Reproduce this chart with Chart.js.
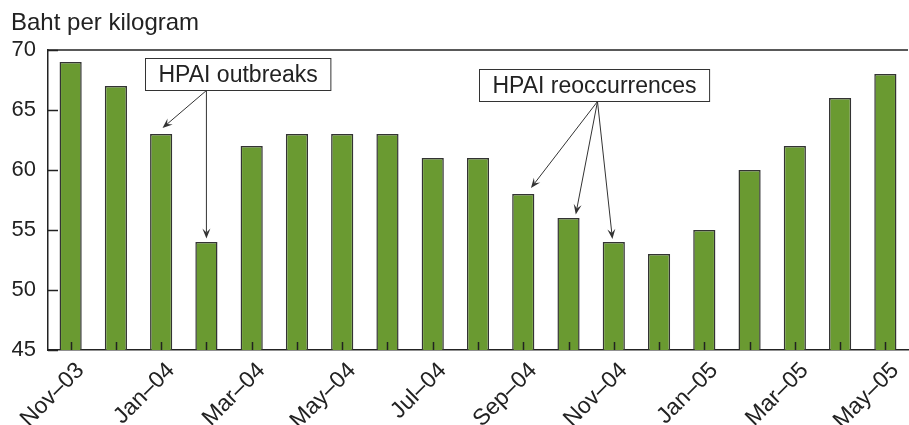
<!DOCTYPE html>
<html>
<head>
<meta charset="utf-8">
<script src="https://cdn.jsdelivr.net/npm/chart.js@4"></script>
<style>
  html, body { margin: 0; padding: 0; background: #fff; }
  #wrap { width: 909px; height: 425px; }
</style>
</head>
<body>
<div id="wrap"><canvas id="myChart" width="909" height="425"></canvas></div>
<script>
// monthly prices, Nov-03 .. May-05
let months = ["Nov–03", "Dec–03", "Jan–04", "Feb–04", "Mar–04", "Apr–04", "May–04", "Jun–04",
  "Jul–04", "Aug–04", "Sep–04", "Oct–04", "Nov–04", "Dec–04", "Jan–05", "Feb–05",
  "Mar–05", "Apr–05", "May–05"];
let prices = [69, 67, 63, 54, 62, 63, 63, 63, 61, 61, 58, 56, 54, 53, 55, 60, 62, 66, 68];
let yTicks = [45, 50, 55, 60, 65, 70];

// callouts: box centre in (category index, value), arrow tips in same units
let callouts = [
  { text: "HPAI outbreaks", x: 3.68, y: 68.0, from: 3.0,
    tips: [[2.03, 63.5], [3.0, 54.3]] },
  { text: "HPAI reoccurrences", x: 11.56, y: 67.05, from: 11.64,
    tips: [[10.17, 58.5], [11.16, 56.3], [11.97, 54.25]] },
];

const FONT = "'Liberation Sans', Arial, Helvetica, sans-serif";
const INK = "#222";

let extras = {
  id: "extras",
  beforeDatasetsDraw(chart) {
    let ctx = chart.ctx;
    let a = chart.chartArea;
    let ys = chart.scales.y;
    ctx.save();
    ctx.strokeStyle = INK;
    ctx.lineWidth = 1.5;
    // inward y ticks
    yTicks.forEach((v) => {
      let py = Math.round(ys.getPixelForValue(v)) + 0.5;
      ctx.beginPath();
      ctx.moveTo(a.left, py);
      ctx.lineTo(a.left + 10, py);
      ctx.stroke();
    });
    ctx.restore();
  },
  afterDraw(chart) {
    let ctx = chart.ctx;
    let a = chart.chartArea;
    let xs = chart.scales.x;
    let ys = chart.scales.y;
    ctx.save();
    // top frame line
    ctx.strokeStyle = INK;
    ctx.lineWidth = 1.5;
    ctx.beginPath();
    ctx.moveTo(a.left, a.top);
    ctx.lineTo(a.right, a.top);
    ctx.stroke();
    // inward x ticks at every category
    months.forEach((m, i) => {
      let px = Math.round(xs.getPixelForValue(i)) + 0.5;
      ctx.beginPath();
      ctx.moveTo(px, a.bottom);
      ctx.lineTo(px, a.bottom - 8);
      ctx.stroke();
    });
    // x labels, every other month, rotated 45 degrees
    ctx.fillStyle = INK;
    ctx.font = "23px " + FONT;
    ctx.textAlign = "right";
    ctx.textBaseline = "middle";
    months.forEach((m, i) => {
      if (i % 2 !== 0) return;
      let px = xs.getPixelForValue(i);
      ctx.save();
      ctx.translate(px + 10, a.bottom + 17);
      ctx.rotate(-Math.PI / 4);
      ctx.fillText(m, 0, 0);
      ctx.restore();
    });
    // axis title
    ctx.font = "24px " + FONT;
    ctx.textAlign = "left";
    ctx.textBaseline = "alphabetic";
    ctx.fillText("Baht per kilogram", 11, 30);

    // callouts
    let px = (i) => xs.left + (i + 0.5) * (xs.width / months.length);
    callouts.forEach((c) => {
      ctx.font = "23px " + FONT;
      let w = ctx.measureText(c.text).width + 26;
      let h = 32;
      let cx = px(c.x), cy = ys.getPixelForValue(c.y);
      let bx = Math.round(cx - w / 2) + 0.5, by = Math.round(cy - h / 2) + 0.5;
      let ox = px(c.from), oy = by + h;
      // arrows
      ctx.strokeStyle = "#333";
      ctx.fillStyle = "#333";
      ctx.lineWidth = 1;
      c.tips.forEach((t) => {
        let tx = px(t[0]), ty = ys.getPixelForValue(t[1]);
        let ang = Math.atan2(ty - oy, tx - ox);
        let L = 10, W = 4;
        ctx.beginPath();
        ctx.moveTo(ox, oy);
        ctx.lineTo(tx - Math.cos(ang) * L * 0.6, ty - Math.sin(ang) * L * 0.6);
        ctx.stroke();
        ctx.beginPath();
        ctx.moveTo(tx, ty);
        ctx.lineTo(tx - Math.cos(ang) * L - Math.sin(ang) * W, ty - Math.sin(ang) * L + Math.cos(ang) * W);
        ctx.lineTo(tx - Math.cos(ang) * L * 0.6, ty - Math.sin(ang) * L * 0.6);
        ctx.lineTo(tx - Math.cos(ang) * L + Math.sin(ang) * W, ty - Math.sin(ang) * L - Math.cos(ang) * W);
        ctx.closePath();
        ctx.fill();
      });
      // box
      ctx.fillStyle = "#fff";
      ctx.fillRect(bx, by, w, h);
      ctx.strokeStyle = "#333";
      ctx.lineWidth = 1;
      ctx.strokeRect(bx, by, w, h);
      ctx.fillStyle = INK;
      ctx.textAlign = "center";
      ctx.textBaseline = "middle";
      ctx.fillText(c.text, bx + w / 2, by + h / 2 + 1);
    });
    ctx.restore();
  },
};

let ctx = document.getElementById("myChart").getContext("2d");
let myChart = new Chart(ctx, {
  type: "bar",
  data: {
    labels: months,
    datasets: [
      {
        data: prices,
        backgroundColor: "#6a9a31",
        borderColor: "#333",
        borderWidth: 1.5,
        borderSkipped: false,
        barPercentage: 0.49,
        categoryPercentage: 1,
      },
    ],
  },
  options: {
    responsive: false,
    animation: false,
    layout: { padding: { top: 50, right: 1, left: 0, bottom: 0 } },
    plugins: { legend: { display: false }, tooltip: { enabled: false } },
    scales: {
      x: {
        grid: { display: false, drawTicks: false },
        border: { display: true, color: INK, width: 1.5 },
        ticks: { display: false },
        afterFit: (s) => { s.height = 75; },
      },
      y: {
        min: 45,
        max: 70,
        afterBuildTicks: (s) => { s.ticks = yTicks.map((v) => ({ value: v })); },
        grid: { drawOnChartArea: false, drawTicks: false },
        border: { display: true, color: INK, width: 1.5 },
        ticks: { padding: 12, color: INK, font: { family: FONT, size: 22 } },
        afterFit: (s) => { s.width = 48; },
      },
    },
  },
  plugins: [extras],
});
</script>
</body>
</html>
